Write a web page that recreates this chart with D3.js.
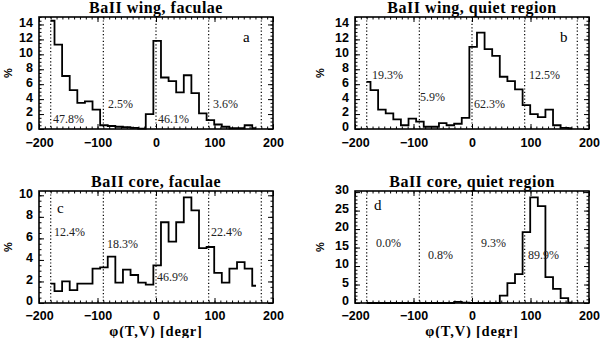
<!DOCTYPE html>
<html>
<head>
<meta charset="utf-8">
<script src="https://d3js.org/d3.v7.min.js"></script>
<style>
  body { margin: 0; background: #fff; }
  .tick text { font-family: "Liberation Sans", Arial, sans-serif; font-weight: bold; font-size: 12.5px; fill: #000; }
  .tick line { stroke: #000; stroke-width: 1; }
  .frame { fill: none; stroke: #000; stroke-width: 1.6; }
  .sector { stroke: #000; stroke-width: 1.2; stroke-dasharray: 1.2 2.2; }
  .hist { fill: none; stroke: #000; stroke-width: 1.8; }
  .pct { font-family: "Liberation Serif", serif; font-size: 12px; fill: #222; }
  .letter { font-family: "Liberation Serif", serif; font-size: 15px; fill: #000; }
  .title { font-family: "Liberation Serif", serif; font-weight: bold; font-size: 16px; fill: #000; letter-spacing: 0.5px; }
  .xtitle { font-family: "Liberation Serif", serif; font-weight: bold; font-size: 14.5px; fill: #000; letter-spacing: 0.8px; }
  .ytitle { font-family: "Liberation Sans", sans-serif; font-weight: bold; font-size: 11px; fill: #000; }
</style>
</head>
<body>
<script>
// bin centres (degrees), shared by all four histograms
var binCenters = [-180, -167, -154, -141, -128, -115, -102, -89, -76, -63, -50, -37, -24, -11,
                  2, 15, 28, 41, 54, 67, 80, 93, 106, 119, 132, 145, 158, 171];

// percentage per bin
var wingFaculae = [14.5, 11.3, 7.1, 5.2, 3.5, 3.7, 2.6, 0.5, 0.4, 0.3, 0.25, 0.15, 0.05, 2.0,
                   11.8, 6.9, 6.4, 4.9, 7.2, 4.8, 2.1, 1.2, 0.6, 0.3, 0.1, 0.1, 0.5, 0.1];
var wingQuiet   = [6.3, 5.2, 2.6, 2.1, 1.3, 0.5, 1.4, 1.0, 0.3, 0.3, 0.8, 0.5, 0.7, 1.5,
                   11.0, 12.9, 10.7, 9.8, 7.0, 6.4, 5.3, 3.2, 2.0, 1.6, 2.6, 0.5, 0.15, 0.1];
var coreFaculae = [1.8, 1.1, 2.0, 1.2, 1.8, 1.8, 3.2, 3.3, 4.3, 1.9, 3.1, 2.6, 1.9, 1.7,
                   3.5, 7.5, 5.7, 7.5, 9.8, 8.6, 5.1, 5.2, 2.8, 1.9, 3.2, 3.8, 3.2, 1.6];
var coreQuiet   = [0, 0, 0, 0, 0, 0, 0, 0, 0, 0, 0, 0, 0.3, 0.1,
                   0, 0, 0, 0, 2.0, 5.4, 7.8, 19.2, 28.6, 26.2, 7.0, 3.8, 1.3, 0.1];

var titles = ["BaII wing, faculae", "BaII wing, quiet region", "BaII core, faculae", "BaII core, quiet region"];
var letters = ["a", "b", "c", "d"];
var pctLabels = [["47.8%", "2.5%", "46.1%", "3.6%"],
                 ["19.3%", "5.9%", "62.3%", "12.5%"],
                 ["12.4%", "18.3%", "46.9%", "22.4%"],
                 ["0.0%", "0.8%", "9.3%", "89.9%"]];
var sectorLines = [-180, -90, 0, 90, 180];
var xTicks = [-200, -100, 0, 100, 200];
var yTicksWing = [0, 2, 4, 6, 8, 10, 12, 14];
var yTicksCoreFac = [0, 2, 4, 6, 8, 10];
var yTicksCoreQuiet = [0, 5, 10, 15, 20, 25, 30];

var W = 600, H = 338;
var svg = d3.select("body").append("svg").attr("width", W).attr("height", H);

// panel layout (pixel boxes), label offsets are relative to frame top-left
var panels = [
  { data: wingFaculae, left: 39, top: 17, yMax: 15, yTicks: yTicksWing, yMinor: 0.5, xPad: 9,
    pctPos: [[14, 106], [69, 91], [119, 106], [174, 91]], letterPos: [204, 25], xtitle: false },
  { data: wingQuiet, left: 355, top: 17, yMax: 15, yTicks: yTicksWing, yMinor: 0.5, xPad: 9,
    pctPos: [[17, 62], [65, 84], [119, 91], [174, 62]], letterPos: [205, 25], xtitle: false },
  { data: coreFaculae, left: 39, top: 191, yMax: 10.4, yTicks: yTicksCoreFac, yMinor: 0.5, xPad: 8,
    pctPos: [[15, 45], [68, 57], [118, 90], [172, 45]], letterPos: [18, 22], xtitle: true },
  { data: coreQuiet, left: 355, top: 191, yMax: 30.3, yTicks: yTicksCoreQuiet, yMinor: 1, xPad: 8,
    pctPos: [[21, 56], [73, 68], [126, 56], [173, 68]], letterPos: [19, 19], xtitle: true }
];
var pw = 234, ph = 112;

panels.forEach(function(p, i) {
  var g = svg.append("g").attr("transform", "translate(" + p.left + "," + p.top + ")");

  var x = d3.scaleLinear().domain([-200, 200]).range([0, pw]);
  var y = d3.scaleLinear().domain([0, p.yMax]).range([ph, 0]);

  // minor ticks
  var xMinor = d3.range(-200, 201, 10);
  var yMinor = d3.range(0, p.yMax + 1e-6, p.yMinor);
  g.append("g").attr("transform", "translate(0," + ph + ")")
    .call(d3.axisBottom(x).tickValues(xMinor).tickSize(-2.5).tickFormat(""));
  g.append("g").call(d3.axisTop(x).tickValues(xMinor).tickSize(-2.5).tickFormat(""));
  g.append("g").call(d3.axisLeft(y).tickValues(yMinor).tickSize(-2.5).tickFormat(""));
  g.append("g").attr("transform", "translate(" + pw + ",0)")
    .call(d3.axisRight(y).tickValues(yMinor).tickSize(-2.5).tickFormat(""));

  // major ticks
  g.append("g").attr("transform", "translate(0," + ph + ")")
    .call(d3.axisBottom(x).tickValues(xTicks).tickSize(-5).tickPadding(p.xPad)
      .tickFormat(function(d) { return d < 0 ? "\u2212" + (-d) : d; }));
  g.append("g").call(d3.axisTop(x).tickValues(xTicks).tickSize(-5).tickFormat(""));
  g.append("g").call(d3.axisLeft(y).tickValues(p.yTicks).tickSize(-5).tickPadding(6))
    .selectAll("text").attr("dy", "0.15em");
  g.append("g").attr("transform", "translate(" + pw + ",0)")
    .call(d3.axisRight(y).tickValues(p.yTicks).tickSize(-5).tickFormat(""));
  g.selectAll(".domain").remove();

  // dotted sector boundaries
  g.selectAll(".sector").data(sectorLines).enter().append("line")
    .attr("class", "sector")
    .attr("x1", function(d) { return x(d); }).attr("x2", function(d) { return x(d); })
    .attr("y1", 0).attr("y2", ph);

  // histogram
  var line = d3.line()
    .x(function(d, k) { return x(binCenters[k]); })
    .y(function(d) { return y(d); })
    .curve(d3.curveStep);
  g.append("path").attr("class", "hist").attr("d", line(p.data));

  g.append("rect").attr("class", "frame").attr("width", pw).attr("height", ph);

  // percentage labels
  pctLabels[i].forEach(function(t, j) {
    g.append("text").attr("class", "pct")
      .attr("x", p.pctPos[j][0]).attr("y", p.pctPos[j][1]).text(t);
  });
  g.append("text").attr("class", "letter")
    .attr("x", p.letterPos[0]).attr("y", p.letterPos[1]).text(letters[i]);

  // titles
  g.append("text").attr("class", "title").attr("text-anchor", "middle")
    .attr("x", pw / 2).attr("y", -4).text(titles[i]);
  g.append("text").attr("class", "ytitle").attr("text-anchor", "middle")
    .attr("transform", "translate(" + (i % 2 ? -31 : -27) + "," + (ph / 2) + ") rotate(-90)")
    .text("%");
  if (p.xtitle) {
    g.append("text").attr("class", "xtitle").attr("text-anchor", "middle")
      .attr("x", pw / 2).attr("y", ph + 33).text("\u03c6(T,V) [degr]");
  }
});
</script>
</body>
</html>
